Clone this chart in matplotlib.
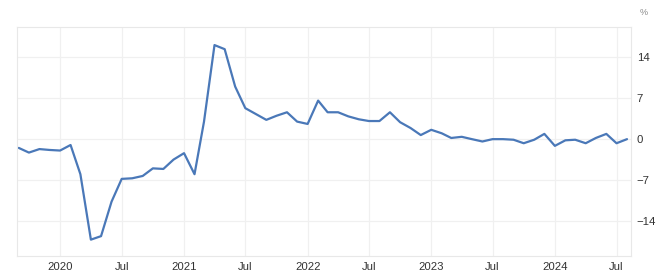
import pandas as pd
import matplotlib.pyplot as plt

# monthly values, Sep 2019 .. Aug 2024
START = "2019-09-01"
VALUES = [
    -1.5, -2.3, -1.7, -1.85,                                    # 2019
    -1.95, -1.0, -6.0, -17.2, -16.6, -10.7, -6.8, -6.7, -6.3, -5.0, -5.1, -3.5,  # 2020
    -2.4, -6.0, 3.0, 16.1, 15.4, 9.0, 5.3, 4.3, 3.3, 4.0, 4.6, 3.0,              # 2021
    2.6, 6.6, 4.6, 4.6, 3.9, 3.4, 3.1, 3.1, 4.6, 2.9, 1.9, 0.7,                  # 2022
    1.6, 1.0, 0.2, 0.4, 0.0, -0.4, 0.0, 0.0, -0.1, -0.7, -0.1, 0.9,              # 2023
    -1.15, -0.2, -0.1, -0.7, 0.2, 0.9, -0.7, 0.0,                                # 2024
]
Y_TICKS = [-14, -7, 0, 7, 14]
X_TICKS = ["2020-01-01", "2020-07-01", "2021-01-01", "2021-07-01", "2022-01-01",
           "2022-07-01", "2023-01-01", "2023-07-01", "2024-01-01", "2024-07-01"]
X_LABELS = ["2020", "Jul", "2021", "Jul", "2022", "Jul", "2023", "Jul", "2024", "Jul"]

LINE_COLOR = "#4a78b8"
GRID_COLOR = "#f0f0f0"
TEXT_COLOR = "#333333"


def main():
    plt.rcParams["font.family"] = ["Liberation Sans", "DejaVu Sans"]
    dates = pd.date_range(START, periods=len(VALUES), freq="MS")

    fig = plt.figure(figsize=(6.56, 2.80), dpi=100)
    ax = fig.add_axes([0.026, 0.0857, 0.936, 0.818])

    ax.plot(dates, VALUES, color=LINE_COLOR, linewidth=1.6,
            solid_joinstyle="round", solid_capstyle="round")

    ax.set_xlim(pd.Timestamp("2019-08-27"), pd.Timestamp("2024-08-13"))
    ax.set_ylim(-20.0, 19.2)

    ax.set_xticks(pd.to_datetime(X_TICKS))
    ax.set_xticklabels(X_LABELS)
    ax.set_yticks(Y_TICKS)
    ax.yaxis.tick_right()

    ax.tick_params(axis="both", length=0, labelsize=8.2, colors=TEXT_COLOR)
    ax.tick_params(axis="x", pad=4)
    ax.tick_params(axis="y", pad=4)

    ax.grid(True, color=GRID_COLOR, linewidth=0.9)
    ax.set_axisbelow(True)
    for side in ("left", "right", "top", "bottom"):
        ax.spines[side].set_color("#e8e8e8")
        ax.spines[side].set_linewidth(0.8)

    fig.text(0.981, 0.955, "%", fontsize=6.5, color="#888888", ha="center", va="center")

    fig.savefig("out.png", dpi=100)


if __name__ == "__main__":
    main()
